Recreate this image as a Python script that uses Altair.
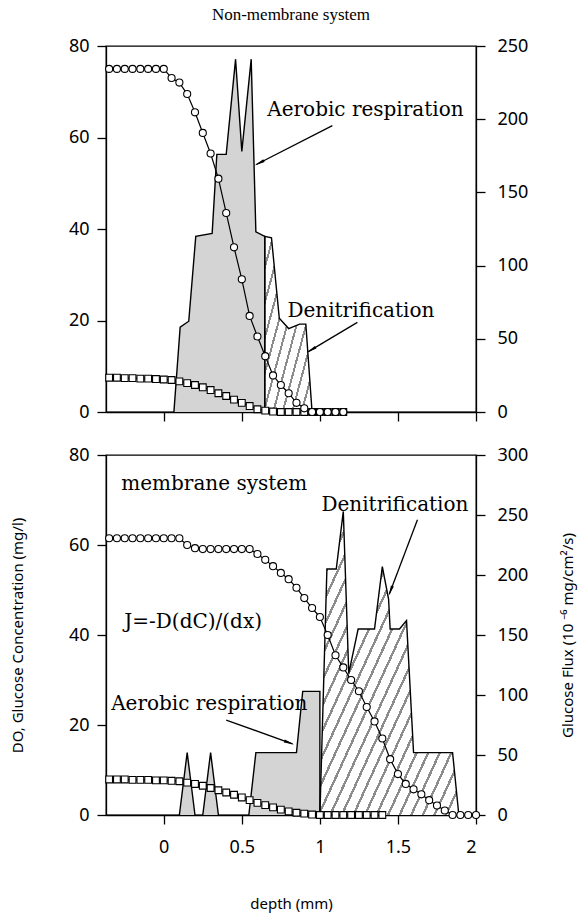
import math
import altair as alt
import pandas as pd

# ---------------- data ----------------
X_DOMAIN = [-0.37, 2.0]
X_TICKS = [0, 0.5, 1, 1.5, 2]
LEFT_TICKS = [0, 20, 40, 60, 80]
TOP_RIGHT_TICKS = [0, 50, 100, 150, 200, 250]
BOT_RIGHT_TICKS = [0, 50, 100, 150, 200, 250, 300]

# top panel (non-membrane system)
TOP_DEPTH = [-0.35, -0.30, -0.25, -0.20, -0.15, -0.10, -0.05, 0.00, 0.05, 0.10,
             0.15, 0.20, 0.25, 0.30, 0.35, 0.40, 0.45, 0.50, 0.55, 0.60,
             0.65, 0.70, 0.75, 0.80, 0.85, 0.90, 0.95, 1.00, 1.05, 1.10, 1.15]
TOP_DO = [75, 75, 75, 75, 75, 75, 75, 75, 73, 72,
          69.5, 65.5, 61, 56.5, 51, 43.5, 36, 29, 21, 16.5,
          12.2, 8.0, 5.9, 4.1, 2.0, 0.8, 0, 0, 0, 0, 0]
TOP_GLU = [7.5, 7.5, 7.4, 7.4, 7.3, 7.3, 7.2, 7.1, 7.0, 6.7,
           6.3, 5.9, 5.4, 4.8, 4.1, 3.5, 2.7, 2.0, 1.3, 0.6,
           0.3, 0.1, 0, 0, 0, 0, 0, 0, 0, 0, 0]
TOP_AER_D = [0.065, 0.105, 0.16, 0.205, 0.31, 0.34, 0.40, 0.46, 0.50, 0.56, 0.59, 0.647, 0.647]
TOP_AER_F = [0, 58, 62, 120, 122, 176, 176, 241, 178, 241, 123, 120, 0]
TOP_DEN_D = [0.647, 0.647, 0.69, 0.74, 0.80, 0.87, 0.91, 0.95]
TOP_DEN_F = [0, 120, 119, 64, 57, 60, 60, 0]

# bottom panel (membrane system)
BOT_DEPTH = [-0.35, -0.30, -0.25, -0.20, -0.15, -0.10, -0.05, 0.00, 0.05, 0.10,
             0.15, 0.20, 0.25, 0.30, 0.35, 0.40, 0.45, 0.50, 0.55, 0.60,
             0.65, 0.70, 0.75, 0.80, 0.85, 0.90, 0.95, 1.00, 1.05, 1.10,
             1.15, 1.20, 1.25, 1.30, 1.35, 1.40, 1.45, 1.50, 1.55, 1.60,
             1.65, 1.70, 1.75, 1.80, 1.85, 1.90, 1.95, 2.00]
BOT_DO = [61.5, 61.5, 61.5, 61.5, 61.5, 61.5, 61.5, 61.5, 61.5, 61.5,
          60.0, 59.3, 59.1, 59.1, 59.1, 59.1, 59.1, 59.1, 59.1,
          58.0, 56.7, 55.3, 53.8, 52.4, 50.5, 48.2, 46.0, 44.0, 40.0,
          35.5, 32.8, 30.0, 27.5, 24.0, 20.8, 17.0, 12.4, 9.1, 6.9,
          5.7, 4.6, 3.3, 2.1, 1.0, 0, 0, 0, 0]
BOT_GLU = [7.9, 7.9, 7.9, 7.8, 7.8, 7.8, 7.7, 7.7, 7.6, 7.5,
           7.2, 6.9, 6.5, 6.0, 5.5, 5.0, 4.5, 3.9, 3.3, 2.7,
           2.2, 1.7, 1.2, 0.8, 0.5, 0.3, 0.1,
           0, 0, 0, 0, 0, 0, 0, 0, 0]
BOT_AER_SEG = [1, 1, 1, 2, 2, 2, 3, 3, 3, 3, 3, 3]
BOT_AER_D = [0.10, 0.15, 0.20, 0.25, 0.30, 0.35, 0.545, 0.59, 0.85, 0.89, 1.0, 1.0]
BOT_AER_F = [0, 52, 0, 0, 52, 0, 0, 52, 52, 103, 103, 0]
BOT_DEN_D = [1.0, 1.045, 1.105, 1.15, 1.185, 1.245, 1.35, 1.40, 1.44, 1.45, 1.51, 1.555, 1.60, 1.85, 1.89]
BOT_DEN_F = [0, 205, 205, 253, 118, 155, 155, 207, 180, 155, 155, 162, 52, 52, 0]

# annotations (depth, mg/l of the left axis)
TOP_TEXT = ["Aerobic respiration", "Denitrification"]
TOP_TEXT_D = [0.663, 0.792]
TOP_TEXT_V = [66.1, 22.0]
TOP_ARR_D1 = [1.08, 1.24]
TOP_ARR_V1 = [62.6, 19.6]
TOP_ARR_D2 = [0.593, 0.926]
TOP_ARR_V2 = [54.1, 13.2]

BOT_TEXT = ["membrane system", "Denitrification", "J=-D(dC)/(dx)", "Aerobic respiration"]
BOT_TEXT_D = [-0.272, 1.01, -0.253, -0.337]
BOT_TEXT_V = [73.6, 68.9, 42.9, 24.7]
BOT_ARR_D1 = [1.625, 0.40]
BOT_ARR_V1 = [65.6, 21.1]
BOT_ARR_D2 = [1.445, 0.824]
BOT_ARR_V2 = [49.1, 15.8]

# ---------------- styling ----------------
SANS = "Noto Sans"
SERIF_T = "Liberation Serif"
SERIF_A = "DejaVu Serif"
W = 370
H_TOP = 366
H_BOT = 360


def line_df(depth, vals):
    return pd.DataFrame({"d": depth[:len(vals)], "v": vals, "i": list(range(len(vals)))})


def flux_df(depth, flux, seg=None):
    df = pd.DataFrame({"d": depth, "f": flux, "i": list(range(len(depth)))})
    df["seg"] = seg if seg is not None else [1] * len(depth)
    return df


def area_part(df):
    dup = df.duplicated(subset=["seg", "d"], keep=False)
    return df[~(dup & (df["f"] == 0))]


def text_df(texts, d, v):
    return pd.DataFrame({"t": texts, "d": d, "v": v})


def arrow_dfs(d1, v1, d2, v2, h):
    sx = W / (X_DOMAIN[1] - X_DOMAIN[0])
    sy = h / 80.0
    rules, heads = [], []
    for a, b, c, e in zip(d1, v1, d2, v2):
        dx = (c - a) * sx
        dy = -(e - b) * sy
        ang = math.degrees(math.atan2(dx, -dy)) % 360
        L = math.hypot(dx, dy)
        ux, uy = dx / L, dy / L
        back = 5.0
        hd = c - ux * back / sx
        hv = e + uy * back / sy
        rules.append({"d": a, "v": b, "d2": c, "v2": e})
        heads.append({"d": hd, "v": hv, "ang": ang})
    return pd.DataFrame(rules), pd.DataFrame(heads)


def hatch(n):
    stops = []
    for k in range(n):
        a = k / n
        b = (k + 0.78) / n
        c = (k + 1) / n
        stops += [{"offset": a, "color": "white"}, {"offset": b, "color": "white"},
                  {"offset": b, "color": "#8c8c8c"}, {"offset": c, "color": "#8c8c8c"}]
    return {"gradient": "linear", "x1": 0, "y1": 0, "x2": 1, "y2": 1, "stops": stops}


def panel(depth, do, glu, aer, den, txt, arr_rules, arr_heads, h, fmax, fticks,
          xlabels, xtitle, ltitle, rtitle, nstripe):
    X = alt.X("d:Q", scale=alt.Scale(domain=X_DOMAIN, nice=False, zero=False),
              axis=alt.Axis(values=X_TICKS, labels=xlabels, format="~g", title=xtitle,
                            labelPadding=14, titlePadding=40))
    YL = alt.Y("v:Q", scale=alt.Scale(domain=[0, 80], nice=False),
               axis=alt.Axis(orient="left", values=LEFT_TICKS, title=ltitle, titlePadding=43))
    YR = alt.Y("f:Q", stack=None, scale=alt.Scale(domain=[0, fmax], nice=False),
               axis=alt.Axis(orient="right", values=fticks, title=rtitle, titleAngle=270,
                             titlePadding=48, labelPadding=12))

    aer_area = alt.Chart(area_part(aer)).mark_area(fill="#d4d4d4", orient="vertical", opacity=1).encode(
        x=X, y=YR, detail="seg:N")
    den_area = alt.Chart(area_part(den)).mark_area(fill=hatch(nstripe), orient="vertical", opacity=1).encode(
        x=X, y=YR, detail="seg:N")
    aer_line = alt.Chart(aer).mark_line(color="black", strokeWidth=1.4).encode(
        x=X, y=YR, detail="seg:N", order="i:Q")
    den_line = alt.Chart(den).mark_line(color="black", strokeWidth=1.4).encode(
        x=X, y=YR, detail="seg:N", order="i:Q")
    right = alt.layer(aer_area, den_area, aer_line, den_line)

    gl = line_df(depth, glu)
    dl = line_df(depth, do)
    glu_line = alt.Chart(gl).mark_line(color="black", strokeWidth=1.2).encode(x=X, y=YL, order="i:Q")
    do_line = alt.Chart(dl).mark_line(color="black", strokeWidth=1.2).encode(x=X, y=YL, order="i:Q")
    glu_pts = alt.Chart(gl).mark_point(shape="square", size=46, filled=True, fill="white",
                                       stroke="black", strokeWidth=1.1, opacity=1).encode(x=X, y=YL)
    do_pts = alt.Chart(dl).mark_point(shape="circle", size=50, filled=True, fill="white",
                                      stroke="black", strokeWidth=1.1, opacity=1).encode(x=X, y=YL)
    rules = alt.Chart(arr_rules).mark_rule(color="black", strokeWidth=1.3).encode(
        x=X, y=YL, x2="d2:Q", y2="v2:Q")
    heads = alt.Chart(arr_heads).mark_point(shape="wedge", size=150, filled=True, color="black",
                                            opacity=1).encode(
        x=X, y=YL, angle=alt.Angle("ang:Q", scale=None))
    texts = alt.Chart(txt).mark_text(align="left", baseline="middle", font=SERIF_A, fontSize=20,
                                     color="black").encode(x=X, y=YL, text="t:N")
    left = alt.layer(glu_line, do_line, glu_pts, do_pts, rules, heads, texts)

    return alt.layer(right, left).resolve_scale(y="independent").properties(width=W, height=h)


top_rules, top_heads = arrow_dfs(TOP_ARR_D1, TOP_ARR_V1, TOP_ARR_D2, TOP_ARR_V2, H_TOP)
bot_rules, bot_heads = arrow_dfs(BOT_ARR_D1, BOT_ARR_V1, BOT_ARR_D2, BOT_ARR_V2, H_BOT)

top = panel(TOP_DEPTH, TOP_DO, TOP_GLU,
            flux_df(TOP_AER_D, TOP_AER_F), flux_df(TOP_DEN_D, TOP_DEN_F),
            text_df(TOP_TEXT, TOP_TEXT_D, TOP_TEXT_V), top_rules, top_heads,
            H_TOP, 250, TOP_RIGHT_TICKS, False, None, None, None, 10
            ).properties(title="Non-membrane system")

bot = panel(BOT_DEPTH, BOT_DO, BOT_GLU,
            flux_df(BOT_AER_D, BOT_AER_F, BOT_AER_SEG), flux_df(BOT_DEN_D, BOT_DEN_F),
            text_df(BOT_TEXT, BOT_TEXT_D, BOT_TEXT_V), bot_rules, bot_heads,
            H_BOT, 300, BOT_RIGHT_TICKS, True, "depth (mm)",
            "DO, Glucose Concentration (mg/l)", "Glucose Flux (10 \u207b\u2076 mg/cm\u00b2/s)", 24)

chart = alt.vconcat(top, bot, spacing=22).properties(
    padding={"left": 9, "top": 5, "right": 5, "bottom": 5},
    background="white",
).configure_view(
    stroke="black", strokeWidth=1.3
).configure_axis(
    grid=False, domainColor="black", domainWidth=1.3, tickColor="black", tickWidth=1.3,
    tickSize=9, labelColor="black", labelFont=SANS, labelFontSize=18, labelPadding=8,
    titleColor="black", titleFont=SANS, titleFontSize=15, titleFontWeight="normal"
).configure_title(
    font=SERIF_T, fontSize=17, fontWeight="normal", color="black", offset=13, anchor="middle"
)

chart.save("out.html", embed_options={"renderer": "svg", "actions": False})
